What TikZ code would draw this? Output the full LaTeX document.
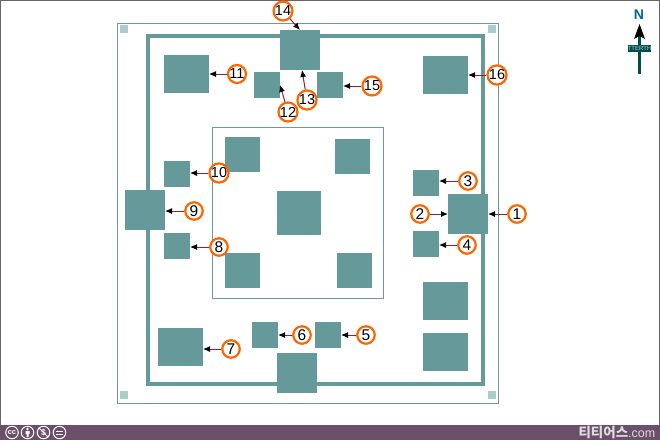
\documentclass[tikz,border=0pt]{standalone}
\usepackage{fontspec}
\setmainfont{Liberation Sans}
\newfontfamily\krfont{Noto Sans CJK KR}
\usetikzlibrary{arrows.meta,calc}
\definecolor{tealbox}{HTML}{669999}
\definecolor{tealthin}{HTML}{6B9B9B}
\definecolor{paletile}{HTML}{AACCCC}
\definecolor{linkred}{HTML}{8E1F3E}
\definecolor{ringorange}{HTML}{FF6600}
\definecolor{barpurple}{HTML}{6B4F6B}
\definecolor{framegray}{HTML}{666666}
\definecolor{northblue}{HTML}{006699}
\definecolor{northteal}{HTML}{004D4D}
\definecolor{sitegray}{HTML}{DDDDDD}
\tikzset{
  box/.style={fill=tealbox,inner sep=0pt,outer sep=0pt},
  boxS/.style={box,minimum width=26pt,minimum height=26pt},
  boxM/.style={box,minimum width=35pt,minimum height=35pt},
  boxL/.style={box,minimum width=40pt,minimum height=40pt},
  boxW/.style={box,minimum width=45pt,minimum height=38pt},
  tile/.style={fill=paletile,inner sep=0pt,minimum size=8pt},
  ring/.style={circle,draw=ringorange,line width=2.2pt,fill=white,minimum size=17.5pt,inner sep=0pt,
    font=\fontsize{15.5}{15.5}\selectfont,text=black},
  pair/.style={ring,font=\fontsize{14.5}{14.5}\selectfont},
  link/.style={draw=linkred,line width=1pt,-{Latex[length=7pt,width=6pt,color=black]}},
  cclogo/.style={circle,draw=white,line width=1pt,minimum size=12.5pt,inner sep=0pt,text=white},
}
\begin{document}
\begin{tikzpicture}[x=1pt,y=-1pt]
\useasboundingbox (0,0) rectangle (660,440);
\fill[white] (0,0) rectangle (660,440);
% page frame and footer
\fill[barpurple] (0,425) rectangle (660,440);
\draw[framegray,line width=1.5pt] (0.5,425) -- (0.5,0.5) -- (659.5,0.5) -- (659.5,425);
% site plan frames
\node[draw=tealthin,line width=1pt,inner sep=0pt,minimum width=381pt,minimum height=380pt] (outer) at (308,213.5) {};
\node[draw=tealbox,line width=4.5pt,inner sep=0pt,minimum width=335pt,minimum height=348pt] (wall) at (315.5,210) {};
\node[draw=tealthin,line width=0.8pt,inner sep=0pt,minimum width=171pt,minimum height=171pt] (inner) at (298,213) {};
\node[tile] (t1) at (124,29) {};
\node[tile] (t2) at (492,29) {};
\node[tile] (t3) at (124,395) {};
\node[tile] (t4) at (492,395) {};
% boxes
\node[boxL] (b1) at (468,214) {};
\node[boxS] (b3) at (426,183) {};
\node[boxS] (b4) at (426,244) {};
\node[boxW] (b16) at (445.5,75) {};
\node[boxW] (br1) at (445.5,301) {};
\node[boxW] (br2) at (445.5,352) {};
\node[boxS] (b5) at (328,335) {};
\node[boxS] (b6) at (265,335) {};
\node[boxW] (b7) at (180.5,347) {};
\node[boxL] (bb) at (297,373) {};
\node[boxL] (b9) at (145,210) {};
\node[boxS] (b10) at (177,174) {};
\node[boxS] (b8) at (177,246) {};
\node[boxW] (b11) at (186.5,74) {};
\node[boxL] (b14) at (300,50) {};
\node[boxS] (b12) at (267,85) {};
\node[boxS] (b15) at (330,85) {};
\node[boxM] (i1) at (242.5,154.5) {};
\node[boxM] (i2) at (352.5,156.5) {};
\node[box,minimum width=44pt,minimum height=44pt] (i3) at (299,213) {};
\node[boxM] (i4) at (242.5,270.5) {};
\node[boxM] (i5) at (354.5,270.5) {};
% numbered markers
\node[ring] (c1) at (517,214) {1};
\node[ring] (c2) at (420,214) {2};
\node[ring] (c3) at (468,181) {3};
\node[ring] (c4) at (467,245) {4};
\node[ring] (c5) at (366,335) {5};
\node[ring] (c6) at (302,335) {6};
\node[ring] (c7) at (231,349) {7};
\node[ring] (c8) at (219,247) {8};
\node[ring] (c9) at (194,211) {9};
\node[pair] (c10) at (219,173) {10};
\node[pair] (c11) at (237,74) {11};
\node[pair] (c12) at (288,112) {12};
\node[pair] (c13) at (307,100) {13};
\node[pair] (c14) at (283,11) {14};
\node[pair] (c15) at (372,86) {15};
\node[pair] (c16) at (497,75) {16};
% connectors
\draw[link] (c1) -- (c1 -| b1.east);
\draw[link] (c2) -- (c2 -| b1.west);
\draw[link] (c3) -- (c3 -| b3.east);
\draw[link] (c4) -- (c4 -| b4.east);
\draw[link] (c5) -- (c5 -| b5.east);
\draw[link] (c6) -- (c6 -| b6.east);
\draw[link] (c7) -- (c7 -| b7.east);
\draw[link] (c8) -- (c8 -| b8.east);
\draw[link] (c9) -- (c9 -| b9.east);
\draw[link] (c10) -- (c10 -| b10.east);
\draw[link] (c11) -- (c11 -| b11.east);
\draw[link] (c12) -- (b12.east);
\draw[link] (c13) -- ($(b14.south)+(2,0)$);
\draw[link] (c14) -- (b14.north);
\draw[link] (c15) -- (c15 -| b15.east);
\draw[link] (c16) -- (c16 -| b16.east);
% north arrow
\coordinate (ntail) at (639.5,74);
\coordinate (ntip) at (639.5,24);
\draw[northteal,line width=3pt] (ntail) -- (639.5,36);
\fill[black] (ntip) -- (645,39) -- (639.5,36) -- (634,39) -- cycle;
\node[fill=northteal,text=paletile,inner sep=0pt,minimum width=23pt,minimum height=7pt,
  font=\fontsize{6}{6}\selectfont] (nlabel) at (639.5,48.5) {TTERTH};
\node[text=northblue,font=\fontsize{14}{14}\selectfont\bfseries,inner sep=0pt] (nletter) at (639,15) {N};
% licence icons
\node[cclogo,font=\fontsize{7.5}{7.5}\selectfont\bfseries] (cc) at (12,432.5) {cc};
\node[cclogo] (by) at (27.5,432.5) {};
\fill[white] (27.5,429) circle (1.4pt);
\fill[white] (25.5,431) rectangle (29.5,434) (26.5,434) rectangle (28.5,437);
\node[cclogo,font=\fontsize{8.5}{8.5}\selectfont\bfseries] (nc) at (43.5,432.5) {\$};
\draw[white,line width=0.8pt] (nc.north west) -- (nc.south east);
\node[cclogo] (nd) at (59.5,432.5) {};
\draw[white,line width=1pt] (56,431) -- (63,431) (56,434) -- (63,434);
% site name
\node[anchor=east,inner sep=0pt,text=sitegray] (site) at (655.5,432)
  {{\krfont\bfseries\fontsize{13.5}{13.5}\selectfont 티티어스}{\fontsize{12.5}{12.5}\selectfont .com}};
\end{tikzpicture}
\end{document}
